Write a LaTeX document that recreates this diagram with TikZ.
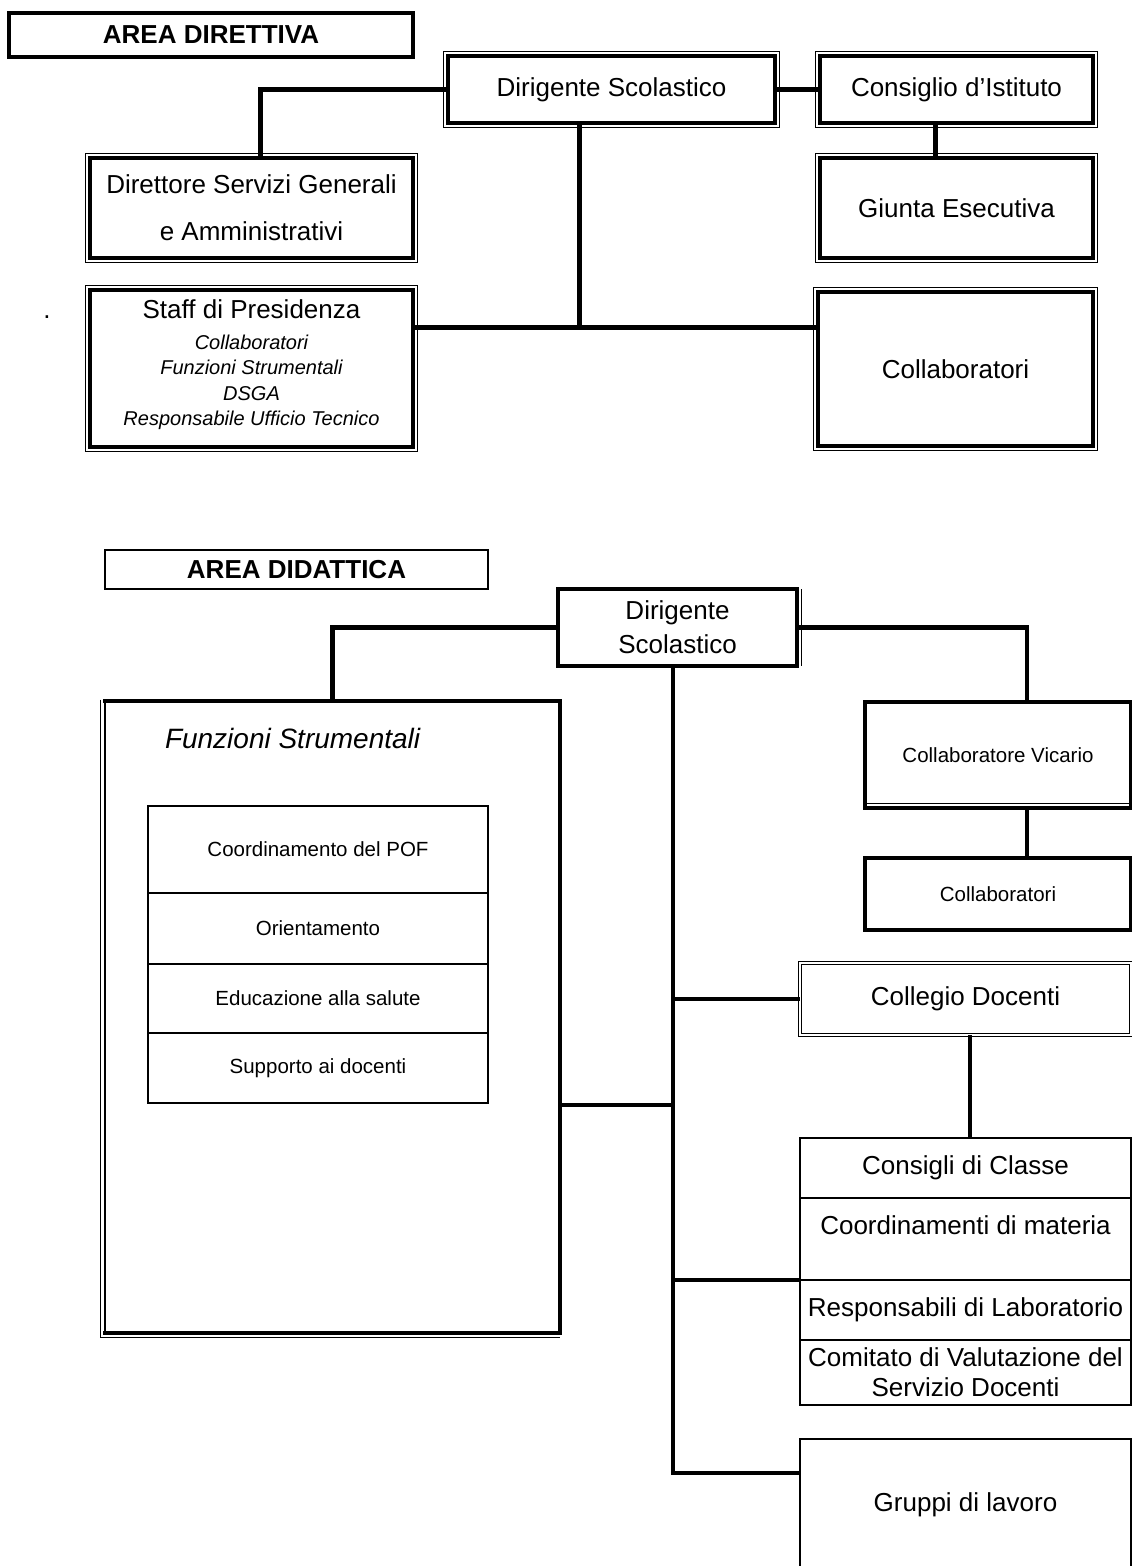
\documentclass[tikz,border=0pt]{standalone}
\usepackage{fontspec}
\setmainfont{Liberation Sans}
\usetikzlibrary{calc}
\newcommand\frameit[1]{\draw[line width=1.3pt] ([shift={(-4.5,-4.5)}]#1.north west) rectangle ([shift={(4.5,4.5)}]#1.south east);}
\begin{document}
\begin{tikzpicture}[x=1pt,y=-1pt,
  big/.style={font=\fontsize{26}{34}\selectfont, align=center},
  bold/.style={font=\fontsize{26}{34}\selectfont\bfseries, align=center},
  small/.style={font=\fontsize{20.5}{25}\selectfont, align=center},
  heavy/.style={draw, line width=4pt, inner sep=0pt, outer sep=0pt, anchor=north west},
  light/.style={draw, line width=2pt, inner sep=0pt, outer sep=0pt, anchor=north west},
  dbl/.style={draw, double, double distance=2.4pt, line width=1.2pt, inner sep=0pt, outer sep=0pt, anchor=north west},
  plain/.style={inner sep=0pt, outer sep=0pt},
  link/.style={line width=5pt},
  linkb/.style={line width=4.5pt},
]
\useasboundingbox (0,0) rectangle (1132,1566);
\fill[white] (0,0) rectangle (1132,1566);

% ---------------- AREA DIRETTIVA ----------------
\node[heavy, line width=4.5pt, minimum width=404pt, minimum height=44pt, bold] (ad) at (9,13) {AREA DIRETTIVA};

\node[heavy, minimum width=327pt, minimum height=67pt, big] (ds1) at (448,56) {Dirigente Scolastico};
\node[heavy, minimum width=273pt, minimum height=67pt, big] (ci) at (820,56) {Consiglio d’Istituto};
\node[heavy, minimum width=323pt, minimum height=100pt, big, font=\fontsize{26}{47}\selectfont] (dsga) at (90,158) {Direttore Servizi Generali\\e Amministrativi};
\node[heavy, minimum width=273pt, minimum height=100pt, big] (ge) at (820,158) {Giunta Esecutiva};
\node[heavy, minimum width=323pt, minimum height=157pt] (sp) at (90,290) {};
\node[heavy, minimum width=275pt, minimum height=154pt, big] (co1) at (818,292) {Collaboratori};
\frameit{ds1}\frameit{ci}\frameit{dsga}\frameit{ge}\frameit{sp}\frameit{co1}

\node[plain, big, anchor=base] (sptitle) at (251.5,318) {Staff di Presidenza};
\node[plain, small, anchor=north, font=\fontsize{20}{25.5}\selectfont\itshape] (spsub) at (251.5,335) {Collaboratori\\Funzioni Strumentali\\DSGA\\Responsabile Ufficio Tecnico};
\node[plain, big, anchor=base] (dot) at (47,318) {.};

\draw[link] (ds1.west) -| ([xshift=8.5pt]dsga.north);
\draw[link] (ds1.east) -- (ci.west);
\draw[link] ([xshift=-21pt]ci.south) -- ([xshift=-21pt]ge.north);
\coordinate (j1) at (579,327);
\draw[link] ([xshift=-32.5pt]ds1.south) -- (j1);
\draw[link] (sp.east |- j1) -- (co1.west |- j1);

% ---------------- AREA DIDATTICA ----------------
\node[light, minimum width=383pt, minimum height=39pt, bold] (add) at (105,550) {AREA DIDATTICA};

\node[heavy, minimum width=239pt, minimum height=77pt, big] (ds2) at (558,589) {Dirigente\\Scolastico};
\draw[line width=1.3pt] ([xshift=4.5pt]ds2.north east) -- ([xshift=4.5pt]ds2.south east);

\node[plain, anchor=north west, minimum width=455pt, minimum height=632pt] (fs) at (105,701) {};
\draw[line width=3.5pt, line cap=rect] (fs.north west) -- (fs.north east) -- (fs.south east) -- (fs.south west);
\draw[line width=1.4pt] ([yshift=-1.5pt]fs.north west) -- ([yshift=1.5pt]fs.south west);
\draw[line width=1.4pt] ([shift={(-4.5,-1.5)}]fs.north west) -- ([shift={(-4.5,4.5)}]fs.south west) -- ([shift={(0,4.5)}]fs.south east);
\node[plain, anchor=west, font=\fontsize{28}{34}\selectfont\itshape] (fstitle) at (165,738) {Funzioni Strumentali};

\node[light, minimum width=340pt, minimum height=87pt, small] (t1) at (148,806) {Coordinamento del POF};
\node[light, minimum width=340pt, minimum height=71pt, small] (t2) at (148,893) {Orientamento};
\node[light, minimum width=340pt, minimum height=69pt, small] (t3) at (148,964) {Educazione alla salute};
\node[light, minimum width=340pt, minimum height=70pt, small] (t4) at (148,1033) {Supporto ai docenti};

\node[heavy, minimum width=266pt, minimum height=106pt, small] (cv) at (865,702) {Collaboratore Vicario};
\draw[line width=1.3pt] ([yshift=4.5pt]cv.south west) -- ([yshift=4.5pt]cv.south east);
\node[heavy, minimum width=266pt, minimum height=72pt, small] (co2) at (865,858) {Collaboratori};

\node[dbl, minimum width=331pt, minimum height=72pt, big] (cd) at (800,963) {Collegio Docenti};

\node[light, minimum width=331pt, minimum height=60pt, big] (r1) at (800,1138) {Consigli di Classe};
\node[light, minimum width=331pt, minimum height=82pt] (r2) at (800,1198) {};
\node[plain, big] (r2t) at (965.5,1225) {Coordinamenti di materia};
\node[light, minimum width=331pt, minimum height=60pt, big] (r3) at (800,1280) {Responsabili di Laboratorio};
\node[light, minimum width=331pt, minimum height=65pt, big, font=\fontsize{26}{30}\selectfont] (r4) at (800,1340) {Comitato di Valutazione del\\Servizio Docenti};

\node[light, minimum width=331pt, minimum height=132pt, big] (gl) at (800,1439) {Gruppi di lavoro};

\draw[linkb] (ds2.west) -| (fs.north);
\draw[linkb] (ds2.east) -| ([xshift=29pt]cv.north);
\draw[linkb] ([xshift=29pt]cv.south) -- ([xshift=29pt]co2.north);
\coordinate (c0) at (673,1473);
\coordinate (h1) at (0,1105);
\draw[linkb] ([xshift=-4.5pt]ds2.south) -- (c0) -- (gl.west |- c0);
\draw[linkb] (fs.east |- h1) -- (c0 |- h1);
\draw[linkb] (c0 |- cd.west) -- (cd.west);
\draw[linkb] (c0 |- r3.north west) -- (r3.north west);
\draw[linkb] ([xshift=4.5pt]cd.south) -- ([xshift=4.5pt]r1.north);
\end{tikzpicture}
\end{document}
